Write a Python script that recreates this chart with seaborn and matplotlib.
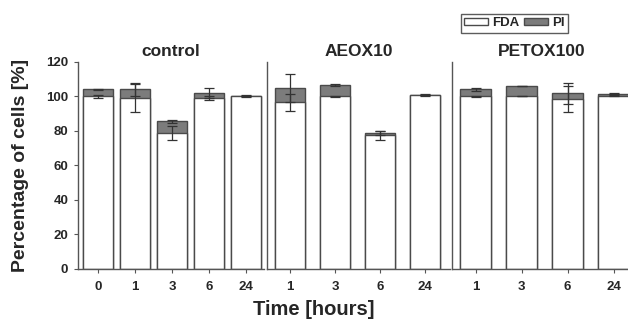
import matplotlib
matplotlib.use("Agg")
import matplotlib.pyplot as plt
import seaborn as sns
import numpy as np
import pandas as pd
from matplotlib.patches import Patch

sns.set_theme(style="white")
plt.rcParams['font.family'] = ['Liberation Sans', 'DejaVu Sans']

# ---- data ----
panels = ["control", "AEOX10", "PETOX100"]
times_control = ["0", "1", "3", "6", "24"]
times_aeox = ["1", "3", "6", "24"]
times_petox = ["1", "3", "6", "24"]

fda_control = [100, 99, 79, 99, 100]
total_control = [104, 104, 85.5, 102, 100.3]
fda_err_control = [1, 8, 4, 1, 0.3]
pi_err_control = [0.5, 4, 1, 3, 0.3]

fda_aeox = [96.5, 100, 77.5, 100.7]
total_aeox = [105, 106.5, 78.8, 100.9]
fda_err_aeox = [5, 0.5, 2.5, 0.2]
pi_err_aeox = [8, 0.6, 1.3, 0.2]

fda_petox = [100, 100, 98.6, 100.5]
total_petox = [104, 105.8, 101.7, 101.4]
fda_err_petox = [0.5, 0, 7.5, 0.3]
pi_err_petox = [1, 0, 6, 0.3]

ytick_vals = [0, 20, 40, 60, 80, 100, 120]

EDGE = "#4a4a4a"
GRAY = "#7c7c7c"

fig = plt.figure(figsize=(6.28, 3.24), dpi=100)
bottom, height = 0.170, 0.639
ax1 = fig.add_axes([0.124, bottom, 0.297, height])
ax2 = fig.add_axes([0.425, bottom, 0.292, height], sharey=ax1)
ax3 = fig.add_axes([0.720, bottom, 0.285, height], sharey=ax1)

specs = [
    (ax1, "control", times_control, fda_control, total_control, fda_err_control, pi_err_control, 0.81, (-0.54, 4.49)),
    (ax2, "AEOX10", times_aeox, fda_aeox, total_aeox, fda_err_aeox, pi_err_aeox, 0.67, (-0.51, 3.56)),
    (ax3, "PETOX100", times_petox, fda_petox, total_petox, fda_err_petox, pi_err_petox, 0.66, (-0.51, 3.38)),
]

for ax, title, times, fda, total, fe, pe, w, xl in specs:
    df = pd.DataFrame({"time": times, "fda": fda, "total": total})
    sns.barplot(data=df, x="time", y="total", order=times, color=GRAY,
                edgecolor=EDGE, linewidth=1.0, width=w, saturation=1, ax=ax, errorbar=None)
    sns.barplot(data=df, x="time", y="fda", order=times, color="white",
                edgecolor=EDGE, linewidth=1.0, width=w, saturation=1, ax=ax, errorbar=None)
    xs = np.arange(len(times))
    ax.errorbar(xs, fda, yerr=fe, fmt="none", ecolor="#333333", elinewidth=0.9, capsize=3.5, capthick=0.9)
    ax.errorbar(xs, total, yerr=pe, fmt="none", ecolor="#333333", elinewidth=0.9, capsize=3.5, capthick=0.9)
    ax.set_xlim(*xl)
    ax.set_ylim(0, 120)
    ax.set_title(title, fontsize=12.5, fontweight="heavy", pad=4)
    ax.set_xlabel("")
    ax.set_ylabel("")
    for s in ["top", "right"]:
        ax.spines[s].set_visible(False)
    for s in ["left", "bottom"]:
        ax.spines[s].set_color("#555555")
        ax.spines[s].set_linewidth(1.0)
    ax.tick_params(axis="x", bottom=True, direction="out", length=3, width=0.8, color="#555555",
                   labelsize=9.5, pad=6)
    for lab in ax.get_xticklabels():
        lab.set_fontweight("bold")

ax1.set_yticks(ytick_vals)
ax1.tick_params(axis="y", left=True, direction="out", length=3, width=0.8, color="#555555",
                labelsize=9.5, pad=4)
for lab in ax1.get_yticklabels():
    lab.set_fontweight("bold")
for ax in (ax2, ax3):
    ax.tick_params(axis="y", left=False, labelleft=False)

fig.text(0.033, 0.49, "Percentage of cells [%]", rotation=90, ha="center", va="center",
         fontsize=14, fontweight="bold")
fig.text(0.50, 0.045, "Time [hours]", ha="center", va="center", fontsize=14.5, fontweight="bold")

handles = [Patch(facecolor="white", edgecolor=EDGE, label="FDA"),
           Patch(facecolor=GRAY, edgecolor=EDGE, label="PI")]
leg = fig.legend(handles=handles, loc="center", bbox_to_anchor=(0.819, 0.928), ncol=2,
                 frameon=True, fancybox=False, edgecolor="#333333", fontsize=9.5,
                 handlelength=1.8, handleheight=0.35, handletextpad=0.3, columnspacing=0.4,
                 borderpad=0.25, borderaxespad=0)
leg.get_frame().set_linewidth(1.0)
for t in leg.get_texts():
    t.set_fontweight("bold")

fig.savefig("out.png", dpi=100)
